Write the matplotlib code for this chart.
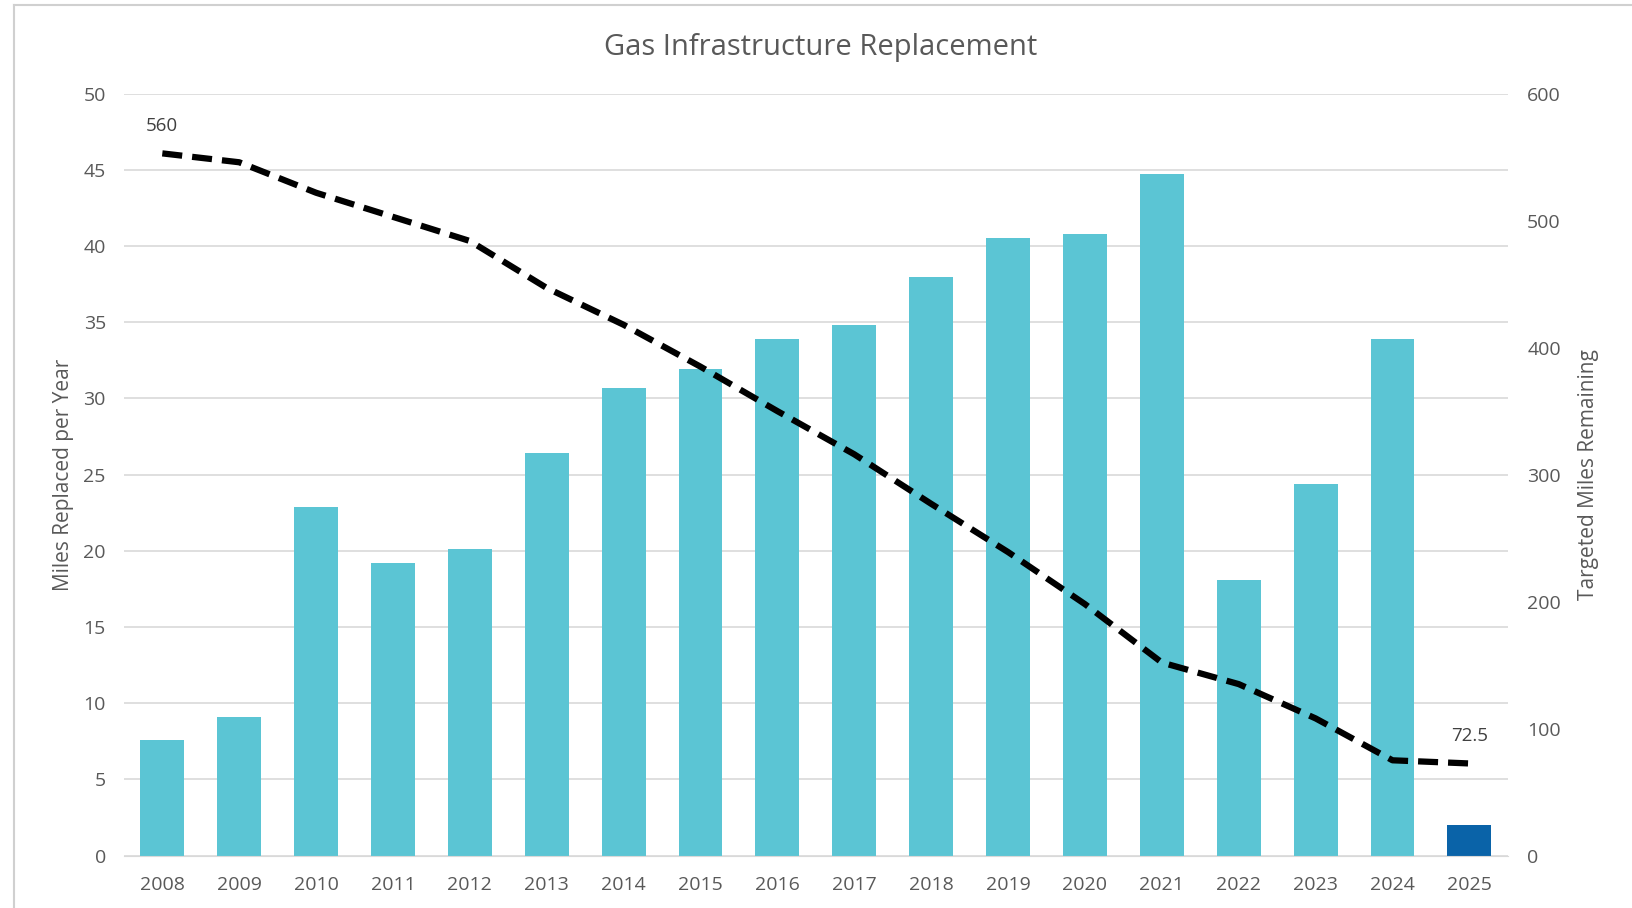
import matplotlib.pyplot as plt
from matplotlib.lines import Line2D
import numpy as np

# Data
years = ['2008', '2009', '2010', '2011', '2012', '2013', '2014', '2015', '2016',
         '2017', '2018', '2019', '2020', '2021', '2022', '2023', '2024', '2025']
miles_replaced = [7.6, 9.1, 22.9, 19.2, 20.1, 26.4, 30.7, 31.9, 33.9,
                  34.8, 38.0, 40.5, 40.8, 44.7, 18.1, 24.4, 33.9, 2.0]
miles_remaining = [553, 546, 522, 503, 484, 447, 418, 385, 350,
                   316, 277, 239, 198, 152, 135, 108, 75, 72.5]
first_label = '560'
last_label = '72.5'

plt.rcParams['font.family'] = ['Open Sans', 'DejaVu Sans']

text_color = '#595959'
bar_color = '#5BC5D4'
last_bar_color = '#0A63A8'
grid_color = '#D9D9D9'

fig = plt.figure(figsize=(16.32, 9.08), dpi=100)
ax = fig.add_axes([0.0759, 0.0578, 0.848, 0.839])
ax2 = ax.twinx()

x = np.arange(len(years))
colors = [bar_color] * (len(years) - 1) + [last_bar_color]
ax.bar(x, miles_replaced, width=0.57, color=colors, zorder=2)

ax.set_xlim(-0.5, len(years) - 0.5)
ax.set_ylim(0, 50)
ax.set_yticks(range(0, 51, 5))
ax.set_xticks(x)
ax.set_xticklabels(years)
ax.yaxis.grid(True, color=grid_color, linewidth=1.2, zorder=0)
ax.set_axisbelow(True)

ax2.plot(x, miles_remaining, color='black', linestyle=(0, (3.2, 1.6)),
         linewidth=4.5, zorder=3)
ax2.set_ylim(0, 600)
ax2.set_yticks(range(0, 601, 100))
ax2.annotate(first_label, (x[0], miles_remaining[0]), xytext=(0, 13),
             textcoords='offset points', ha='center', va='bottom',
             fontsize=13.5, color='#404040')
ax2.annotate(last_label, (x[-1], miles_remaining[-1]), xytext=(0, 13),
             textcoords='offset points', ha='center', va='bottom',
             fontsize=13.5, color='#404040')

for a in (ax, ax2):
    for s in a.spines.values():
        s.set_visible(False)
    a.tick_params(length=0, labelsize=14, labelcolor=text_color)
ax.spines['bottom'].set_visible(True)
ax.spines['bottom'].set_color(grid_color)
ax.tick_params(axis='x', pad=15)
ax.tick_params(axis='y', pad=13)
ax2.tick_params(axis='y', pad=14)

ax.set_ylabel('Miles Replaced per Year', fontsize=15, color=text_color, labelpad=7)
ax2.set_ylabel('Targeted Miles Remaining', fontsize=15, color=text_color, labelpad=12)

fig.text(0.503, 0.948, 'Gas Infrastructure Replacement', ha='center', va='center',
         fontsize=21, color=text_color)

# light frame around the chart area
fig.add_artist(Line2D([0.0085, 0.0085], [0, 0.995], color='#D0D0D0', linewidth=1.5))
fig.add_artist(Line2D([0.0085, 1], [0.995, 0.995], color='#D0D0D0', linewidth=1.5))

plt.savefig('out.png', dpi=100)
